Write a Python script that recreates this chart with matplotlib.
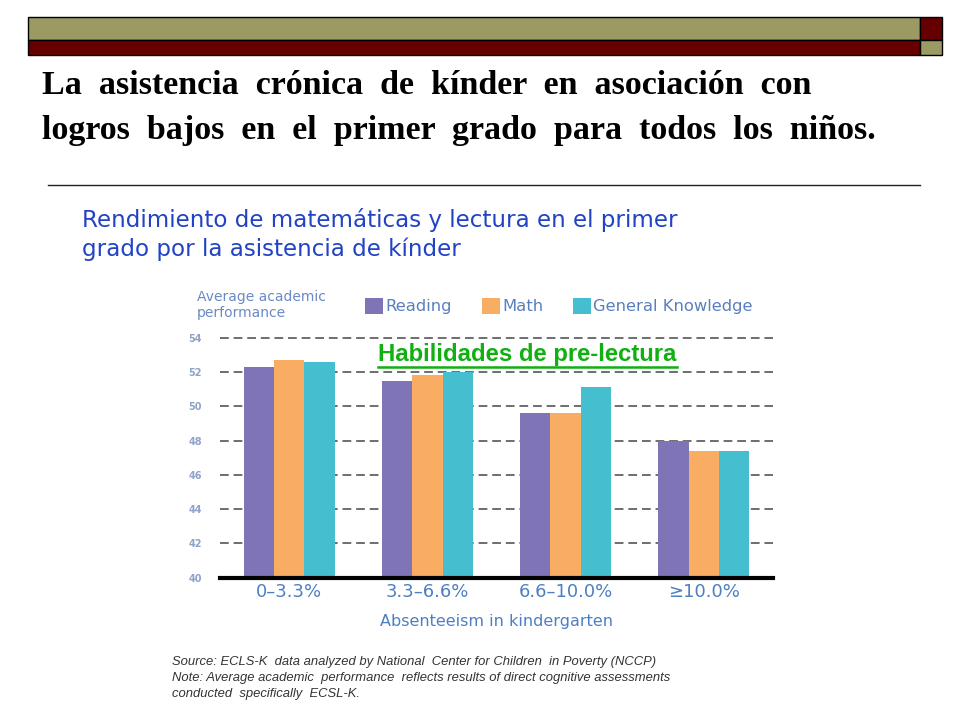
import numpy as np
import matplotlib.pyplot as plt
from matplotlib.patches import Rectangle

# Data
groups = ['0–3.3%', '3.3–6.6%', '6.6–10.0%', '≥10.0%']
reading = [52.3, 51.5, 49.6, 48.0]
math_scores = [52.7, 51.8, 49.6, 47.4]
general_knowledge = [52.6, 52.0, 51.1, 47.4]
series_names = ['Reading', 'Math', 'General Knowledge']
yticks = [40, 42, 44, 46, 48, 50, 52, 54]

title_lines = ['La  asistencia  crónica  de  kínder  en  asociación  con',
               'logros  bajos  en  el  primer  grado  para  todos  los  niños.']
subtitle_lines = ['Rendimiento de matemáticas y lectura en el primer',
                  'grado por la asistencia de kínder']
source_lines = ['Source: ECLS-K  data analyzed by National  Center for Children  in Poverty (NCCP)',
                'Note: Average academic  performance  reflects results of direct cognitive assessments',
                'conducted  specifically  ECSL-K.']

colors = ['#7f74b5', '#f8ad63', '#45bfcf']
chartBlue = '#4d7fc2'
olive = '#9a9a62'
darkRed = '#660000'

W, H = 960, 720
fig = plt.figure(figsize=(9.6, 7.2), dpi=100)

# overlay axes in pixel coordinates for the slide decorations
bg = fig.add_axes([0, 0, 1, 1])
bg.set_xlim(0, W)
bg.set_ylim(H, 0)
bg.axis('off')

bg.add_patch(Rectangle((28, 17), 892, 23, facecolor=olive, edgecolor='black', lw=1))
bg.add_patch(Rectangle((28, 40), 892, 15, facecolor=darkRed, edgecolor='black', lw=1))
bg.add_patch(Rectangle((920, 17), 22, 23, facecolor=darkRed, edgecolor='black', lw=1))
bg.add_patch(Rectangle((920, 40), 22, 15, facecolor=olive, edgecolor='black', lw=1))

for i, line in enumerate(title_lines):
    bg.text(42, 86 + i * 44, line, fontsize=24.5, fontweight='bold',
            family='Liberation Serif', va='center', ha='left')
bg.plot([48, 920], [185, 185], color='#222222', lw=1)

for i, line in enumerate(subtitle_lines):
    bg.text(82, 220 + i * 29, line, fontsize=16.6, color='#2244c4',
            family='DejaVu Sans', va='center', ha='left')

for i, line in enumerate(source_lines):
    bg.text(172, 662 + i * 16, line, fontsize=9.4, style='italic',
            family='Liberation Sans', color='#333333', va='center', ha='left')

# y axis caption
bg.text(197, 305, 'Average academic\nperformance', fontsize=10, color='#6a8ac6',
        family='DejaVu Sans', va='center', ha='left', linespacing=1.1)

# chart axes
ax = fig.add_axes([220 / W, 1 - 577.7 / H, 553 / W, 240 / H])
x = np.arange(len(groups))
width = 0.22
for k, vals in enumerate([reading, math_scores, general_knowledge]):
    ax.bar(x + (k - 1) * width, np.array(vals) - 40, bottom=40, width=width,
           color=colors[k], label=series_names[k], zorder=3)

ax.set_xlim(-0.5, 3.5)
ax.set_ylim(40, 54)
for yv in yticks[1:]:
    ax.axhline(yv, color='#6e6e6e', lw=1.4, ls=(0, (4.5, 2.5)), zorder=1, clip_on=False)
for s in ['top', 'right', 'left']:
    ax.spines[s].set_visible(False)
ax.spines['bottom'].set_linewidth(3)
ax.spines['bottom'].set_zorder(4)
ax.set_yticks(yticks)
ax.set_yticklabels([str(v) for v in yticks], fontsize=7, color='#8fa3c8', fontweight='bold')
ax.tick_params(axis='y', length=0, pad=13)
ax.set_xticks(x)
ax.set_xticklabels(groups, fontsize=13, color=chartBlue)
ax.tick_params(axis='x', length=0, pad=4)
ax.set_xlabel('Absenteeism in kindergarten', fontsize=11.5, color=chartBlue, labelpad=9)
ax.patch.set_alpha(0)

ax.legend(loc='center left', bbox_to_anchor=(357 / W, 1 - 306 / H),
          bbox_transform=fig.transFigure, ncol=3, frameon=False,
          fontsize=11.8, labelcolor='#5a7fc0', handlelength=1.1, handleheight=1.1,
          handletextpad=0.15, columnspacing=1.8, borderpad=0)

ax.text(527, 355, 'Habilidades de pre-lectura', transform=bg.transData,
        fontsize=17.2, fontweight='bold', color='#10b010', family='Liberation Sans',
        ha='center', va='center', zorder=5)
bg.plot([378, 677], [367, 367], color='#10b010', lw=1.8)

fig.savefig('out.png', dpi=100)
